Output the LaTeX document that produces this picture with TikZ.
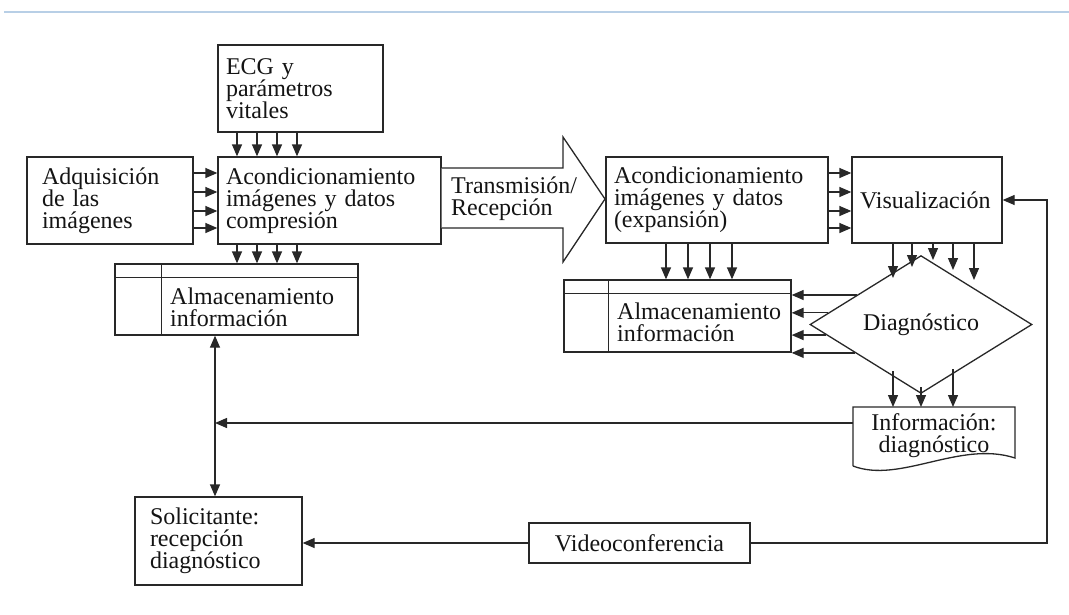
\documentclass[tikz,border=0pt]{standalone}
\usepackage{fontspec}
\setmainfont{Liberation Serif}
\usetikzlibrary{arrows.meta,calc,shapes.geometric}
\definecolor{topline}{RGB}{184,207,230}
\definecolor{ink}{RGB}{40,40,40}
\begin{document}
\begin{tikzpicture}[x=1pt,y=-1pt,
  every node/.style={font=\fontsize{24}{22}\selectfont, text=black!92},
  box/.style={draw=ink, line width=1.3pt, align=left, inner ysep=0pt, inner xsep=8pt, fill=white},
  lbl/.style={inner sep=0pt, align=left},
  ln/.style={draw=ink, line width=1.3pt},
  arr/.style={ln, -{Triangle[length=12pt,width=10pt]}},
  darr/.style={ln, {Triangle[length=12pt,width=10pt]}-{Triangle[length=12pt,width=10pt]}},
]
\useasboundingbox (0,0) rectangle (1069,614);
\draw[line width=2pt, topline] (4,12) -- (1069,12);

% boxes
\node[box, text width=149pt, minimum height=87pt] (ecg) at (300.5,88.5) {ECG y\\parámetros\\vitales};
\node[box, inner xsep=15pt, text width=136pt, minimum height=87pt] (adq) at (110,200.5) {Adquisición\\de las\\imágenes};
\node[box, text width=207pt, minimum height=87pt] (acL) at (329.5,200.5) {Acondicionamiento\\imágenes y datos\\compresión};
\node[box, text width=206pt, minimum height=86pt] (acR) at (717,200) {Acondicionamiento\\imágenes y datos\\(expansión)};
\node[box, text width=134pt, minimum height=86pt] (vis) at (927,200) {Visualización};
\node[box, inner xsep=15pt, text width=137pt, minimum height=88pt] (sol) at (218.5,541) {Solicitante:\\recepción\\diagnóstico};
\node[box, align=center, text width=205pt, minimum height=40pt] (video) at (639.5,543) {Videoconferencia};

% storage boxes
\node[box, inner sep=0pt, minimum width=243pt, minimum height=71pt] (almL) at (236.5,299.5) {};
\draw[ln] ($(almL.north west)+(0,14)$) -- ($(almL.north east)+(0,14)$);
\draw[ln] ($(almL.north west)+(47,0)$) -- ($(almL.south west)+(47,0)$);
\node[lbl, anchor=west] (almLt) at (170,307) {Almacenamiento\\información};

\node[box, inner sep=0pt, minimum width=227pt, minimum height=72pt] (almR) at (677.5,316) {};
\draw[ln] ($(almR.north west)+(0,14)$) -- ($(almR.north east)+(0,14)$);
\draw[ln] ($(almR.north west)+(45,0)$) -- ($(almR.south west)+(45,0)$);
\node[lbl, anchor=west] (almRt) at (617,322) {Almacenamiento\\información};

% big transmission arrow
\draw[ln, fill=white] (acL.east |- 0,168) -- (563,168) -- (563,137) -- (605,199) -- (563,262) -- (563,228) -- (acL.east |- 0,228);
\node[lbl, anchor=west] (trans) at (451,199) {Transmisión/\\Recepción};

% diamond
\node[draw=ink, line width=1.3pt, shape=diamond, minimum width=222pt, minimum height=125pt, inner sep=0pt, fill=white] (dia) at (921,324.5) {Diagnóstico};

% information document
\coordinate (iNW) at (853,407);
\coordinate (iNE) at (1015,407);
\coordinate (iSE) at (1015,458);
\coordinate (iSW) at (853,466);
\draw[ln] (iSW) -- (iNW) -- (iNE) -- (iSE) .. controls (960,440) and (900,484) .. (iSW);
\node[lbl, align=center] (info) at (934,436) {Información:\\diagnóstico};

% arrows
\foreach \x in {237,257,277,297} {
  \draw[arr] (ecg.south -| \x,0) -- (acL.north -| \x,0);
  \draw[arr] (acL.south -| \x,0) -- (almL.north -| \x,0);
}
\foreach \y in {173,192,211,228} {
  \draw[arr] (adq.east |- 0,\y) -- (acL.west |- 0,\y);
  \draw[arr] (acR.east |- 0,\y) -- (vis.west |- 0,\y);
}
\foreach \x in {666,688,710,732}
  \draw[arr] (acR.south -| \x,0) -- (almR.north -| \x,0);

\foreach \x/\y in {893/278,912/267,933/260,953/270,974/280} {
  \coordinate (vd) at (\x,\y);
  \draw[arr] (vis.south -| vd) -- (vd);
}

\coordinate (p1) at (893,371);
\coordinate (p2) at (921,387);
\coordinate (p3) at (953,369);
\coordinate (t1) at (893,407);
\coordinate (t2) at (921,407);
\coordinate (t3) at (953,407);
\draw[arr] (p1) -- (t1);
\draw[arr] (p2) -- (t2);
\draw[arr] (p3) -- (t3);

\foreach \t/\a in {0.424/north,0.168/north,0.152/south,0.408/south} {
  \coordinate (q) at ($(dia.west)!\t!(dia.\a)$);
  \draw[arr] (q) -- (q -| almR.east);
}

\coordinate (vx) at (215,423);
\draw[arr] (iNW |- vx) -- (vx);
\draw[darr] (almL.south -| vx) -- (sol.north -| vx);

\draw[arr] (video.west) -- (sol.east |- video.west);
\coordinate (rc) at (1047,543);
\draw[arr] (video.east) -- (rc) -- (rc |- vis.east) -- (vis.east);
\end{tikzpicture}
\end{document}
